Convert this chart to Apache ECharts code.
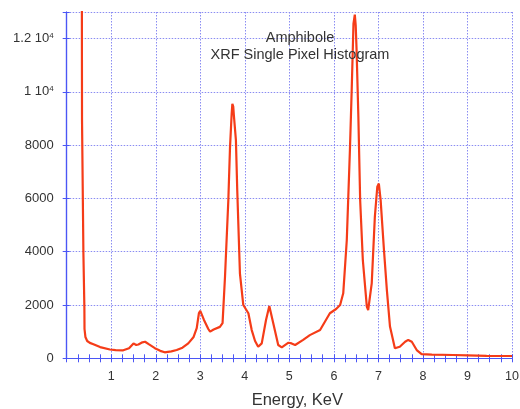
<!DOCTYPE html>
<html><head><meta charset="utf-8">
<script src="https://cdn.jsdelivr.net/npm/echarts@6/dist/echarts.min.js"></script>
<style>html,body{margin:0;padding:0;background:#fff}#c{width:520px;height:409px}</style>
</head><body><div id="c"></div>
<script>
const energy = [0.34,0.344,0.373,0.375,0.395,0.397,0.40,0.42,0.46,0.52,0.6,0.75,0.97,1.1,1.27,1.4,1.5,1.56,1.61,1.7,1.76,1.85,1.98,2.1,2.2,2.35,2.47,2.6,2.73,2.85,2.92,2.97,3.0,3.08,3.18,3.22,3.3,3.44,3.50,3.555,3.63,3.667,3.705,3.72,3.74,3.757,3.80,3.83,3.89,3.966,4.08,4.155,4.23,4.30,4.38,4.476,4.55,4.64,4.75,4.83,4.98,5.05,5.13,5.31,5.46,5.69,5.91,6.05,6.14,6.21,6.29,6.36,6.40,6.44,6.47,6.49,6.51,6.55,6.59,6.65,6.74,6.77,6.85,6.92,6.975,7.01,7.05,7.125,7.19,7.26,7.37,7.48,7.6,7.67,7.75,7.86,7.97,8.2,8.68,9.0,9.43,10];
const counts = [14000,8960,8940,3950,3950,1920,1100,800,650,580,530,420,330,310,300,380,560,500,520,600,620,520,380,280,225,260,310,400,560,800,1130,1700,1780,1450,1100,1000,1080,1180,1320,3060,5940,7900,9190,9550,9450,9060,8190,6310,3190,2000,1690,1060,650,435,560,1440,1960,1310,500,410,585,560,500,690,870,1060,1690,1850,2000,2440,4440,7810,10060,12560,12900,12500,11560,9060,5940,3690,1940,1810,2810,5310,6440,6560,5940,4060,2560,1190,375,435,620,690,620,310,160,140,124,110,90,86];
const xTicks = [1,2,3,4,5,6,7,8,9,10];
const yTickLabels = {0:'0',2000:'2000',4000:'4000',6000:'6000',8000:'8000',10000:'{a|1 10}{s|4}',12000:'{a|1.2 10}{s|4}'};
const titleLines = ['Amphibole','XRF Single Pixel Histogram'];
const xName = 'Energy, KeV';

const axisBlue = '#4b56f5';
const gridBlue = '#8a8cf2';
const font = 'Liberation Sans, Arial, Helvetica, sans-serif';
const chart = echarts.init(document.getElementById('c'));
chart.setOption({
  animation: false,
  title: {
    text: titleLines.join('\n'),
    left: 295, top: 25, textAlign: 'center',
    textStyle: {fontFamily: font, fontSize: 14.5, fontWeight: 'normal', color: '#333', lineHeight: 16.5}
  },
  grid: {left: 66.7, right: 8, top: 12, bottom: 50.7, containLabel: false, outerBoundsMode: 'none'},
  xAxis: [{
    type: 'value', min: 0, max: 10, interval: 1, position: 'bottom',
    name: xName, nameLocation: 'middle', nameGap: 34,
    nameTextStyle: {fontFamily: font, fontSize: 16.5, color: '#333', padding: [0,0,0,16]},
    axisLine: {show: true, lineStyle: {color: axisBlue, width: 1.2}},
    axisTick: {show: true, inside: true, length: 4, lineStyle: {color: axisBlue}},
    minorTick: {show: true, splitNumber: 4, length: 4, lineStyle: {color: axisBlue}},
    axisLabel: {margin: 12, fontFamily: font, fontSize: 12.5, color: '#333',
      formatter: v => xTicks.includes(v) ? String(v) : ''},
    splitLine: {show: true, lineStyle: {color: gridBlue, type: [1.5,1.5], width: 1}}
  },{
    type: 'value', min: 0, max: 10, interval: 1, position: 'top',
    axisLine: {show: true, lineStyle: {color: axisBlue, width: 1.2}},
    axisTick: {show: true, inside: true, length: 4, lineStyle: {color: axisBlue}},
    minorTick: {show: true, splitNumber: 4, length: 4, lineStyle: {color: axisBlue}},
    axisLabel: {show: false}, splitLine: {show: false}
  }],
  yAxis: [{
    type: 'value', min: 0, max: 13000, interval: 2000, position: 'left',
    axisLine: {show: true, lineStyle: {color: axisBlue, width: 1.2}},
    axisTick: {show: true, inside: true, length: 3, lineStyle: {color: axisBlue}},
    axisLabel: {margin: 13, fontFamily: font, fontSize: 13, color: '#333',
      formatter: v => yTickLabels[v] !== undefined ? yTickLabels[v] : '',
      rich: {a: {fontFamily: font, fontSize: 13, color: '#333'},
             s: {fontFamily: font, fontSize: 8, color: '#333', verticalAlign: 'top', padding: [0,0,6,0]}}},
    splitLine: {show: true, lineStyle: {color: gridBlue, type: [1.5,1.5], width: 1}}
  },{
    type: 'value', min: 0, max: 13000, interval: 2000, position: 'right',
    axisLine: {show: true, lineStyle: {color: axisBlue, width: 1.2}},
    axisTick: {show: true, inside: true, length: 4, lineStyle: {color: axisBlue}},
    axisLabel: {show: false}, splitLine: {show: false}
  }],
  series: [{
    type: 'line', xAxisIndex: 0, yAxisIndex: 0, showSymbol: false, clip: true,
    data: energy.map((e, i) => [e, counts[i]]),
    lineStyle: {color: '#f53c18', width: 2.2}
  }]
});
</script></body></html>
